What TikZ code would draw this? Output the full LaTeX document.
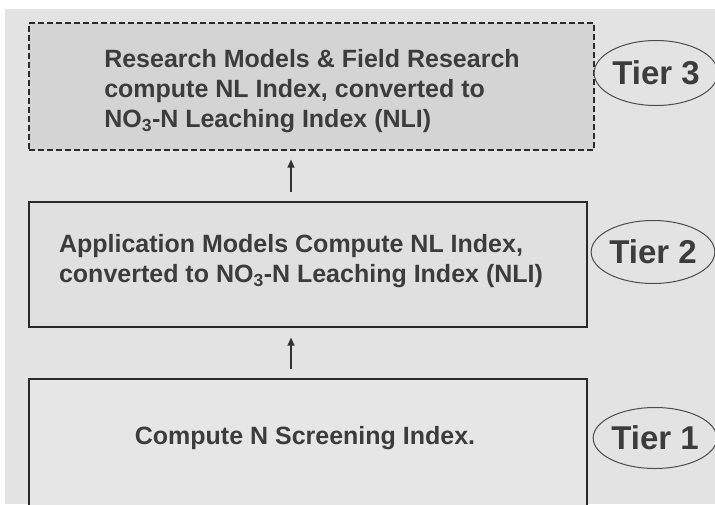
\documentclass[tikz,border=0pt]{standalone}
\usepackage{fontspec}
\setmainfont{Liberation Sans}
\usetikzlibrary{shapes.geometric,arrows.meta}
\definecolor{bgc}{HTML}{E3E3E3}
\definecolor{fillthree}{HTML}{D4D4D4}
\definecolor{filltwo}{HTML}{E0E0E0}
\definecolor{fillone}{HTML}{E6E6E6}
\definecolor{txtc}{HTML}{3C3C3C}
\definecolor{edgec}{HTML}{2A2A2A}
\begin{document}
\begin{tikzpicture}[x=1pt,y=1pt,
  tierbox/.style={draw=edgec,line width=1.6pt,rectangle,inner sep=0pt,anchor=north west},
  boxtext/.style={text=txtc,font=\fontsize{25}{30}\selectfont\bfseries,align=left,inner sep=0pt},
  tierlabel/.style={ellipse,draw=black!70,line width=1pt,fill=bgc,text=txtc,inner sep=0pt,
    font=\fontsize{33}{36}\selectfont\bfseries},
  uparrow/.style={-{Triangle[length=8pt,width=7pt]},line width=1.2pt,draw=black!80}]
\useasboundingbox (0,0) rectangle (715,-504);
\fill[white] (0,0) rectangle (715,-504);
\fill[bgc] (5,-9) rectangle (715,-504);
% boxes
\node[tierbox,fill=fillthree,dashed,dash pattern=on 6pt off 3pt,minimum width=565pt,minimum height=127pt] (b3) at (28,-22) {};
\node[tierbox,fill=filltwo,minimum width=558pt,minimum height=125pt] (b2) at (28,-201) {};
\node[tierbox,fill=fillone,minimum width=558pt,minimum height=140pt] (b1) at (28,-378) {};
% texts
\node[boxtext] (t3) at (312,-91) {Research Models \& Field Research\\compute NL Index, converted to\\NO\textsubscript{3}-N Leaching Index (NLI)};
\node[boxtext] (t2) at (301,-261) {Application Models Compute NL Index,\\converted to NO\textsubscript{3}-N Leaching Index (NLI)};
\node[boxtext] (t1) at (305,-438) {Compute N Screening Index.};
% tier labels
\node[tierlabel,minimum width=115pt,minimum height=65pt] (e3) at (656,-73) {Tier 3};
\node[tierlabel,minimum width=122pt,minimum height=63pt] (e2) at (653,-252) {Tier 2};
\node[tierlabel,minimum width=119pt,minimum height=61pt] (e1) at (655,-438) {Tier 1};
% arrows
\coordinate (ax) at (291,0);
\draw[uparrow,shorten <=9pt,shorten >=9pt] (b2.north -| ax) -- (b3.south -| ax);
\draw[uparrow,shorten <=9pt,shorten >=10pt] (b1.north -| ax) -- (b2.south -| ax);
\end{tikzpicture}
\end{document}
